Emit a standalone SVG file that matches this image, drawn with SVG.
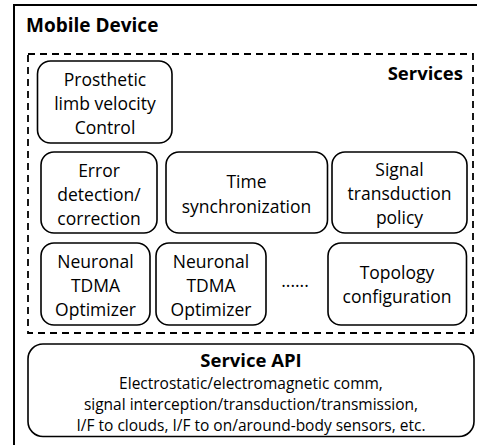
<svg xmlns="http://www.w3.org/2000/svg" width="477" height="445" viewBox="0 0 477 445">
<style>
.box{fill:#fff;stroke:#000;stroke-width:1.6}
.t{font-family:"Open Sans","Liberation Sans",sans-serif;font-size:17.5px;fill:#000;text-anchor:middle}
.b{font-family:"Open Sans","Liberation Sans",sans-serif;font-weight:bold;font-size:18.5px;fill:#000}
.s{font-family:"Open Sans","Liberation Sans",sans-serif;font-size:15.5px;fill:#000;text-anchor:middle}
</style>
<rect width="477" height="445" fill="#fff"/>
<g id="mobile-device">
<path d="M14,446 V5 H478" fill="none" stroke="#000" stroke-width="2"/>
<text class="b" x="26" y="32" style="font-size:19px">Mobile Device</text>
</g>
<g id="services">
<rect x="28" y="54" width="445" height="279" fill="none" stroke="#000" stroke-width="1.8" stroke-dasharray="7,5"/>
<text class="b" x="463" y="80" text-anchor="end">Services</text>
</g>
<g id="prosthetic">
<rect class="box" x="37.5" y="61" width="134.5" height="82" rx="13"/>
<text class="t" x="105" y="86">Prosthetic</text>
<text class="t" x="105" y="110">limb velocity</text>
<text class="t" x="105" y="134">Control</text>
</g>
<g id="error">
<rect class="box" x="41" y="152" width="116" height="81" rx="13"/>
<text class="t" x="99" y="177">Error</text>
<text class="t" x="99" y="201">detection/</text>
<text class="t" x="99" y="225">correction</text>
</g>
<g id="time">
<rect class="box" x="166" y="152" width="161.5" height="81" rx="13"/>
<text class="t" x="246.5" y="188">Time</text>
<text class="t" x="246.5" y="213">synchronization</text>
</g>
<g id="signal">
<rect class="box" x="332" y="152" width="135" height="81" rx="13"/>
<text class="t" x="399.5" y="176">Signal</text>
<text class="t" x="399.5" y="200">transduction</text>
<text class="t" x="399.5" y="224">policy</text>
</g>
<g id="tdma1">
<rect class="box" x="41" y="243" width="109" height="82" rx="13"/>
<text class="t" x="95.5" y="268">Neuronal</text>
<text class="t" x="95.5" y="292">TDMA</text>
<text class="t" x="95.5" y="316">Optimizer</text>
</g>
<g id="tdma2">
<rect class="box" x="156" y="243" width="110" height="82" rx="13"/>
<text class="t" x="211" y="268">Neuronal</text>
<text class="t" x="211" y="292">TDMA</text>
<text class="t" x="211" y="316">Optimizer</text>
</g>
<g id="ellipsis">
<text class="t" x="295" y="287">......</text>
</g>
<g id="topology">
<rect class="box" x="328" y="243" width="138.5" height="82" rx="13"/>
<text class="t" x="397" y="279">Topology</text>
<text class="t" x="397" y="303">configuration</text>
</g>
<g id="service-api">
<rect class="box" x="28" y="344" width="446" height="92.5" rx="15"/>
<text class="b" x="251" y="367" text-anchor="middle">Service API</text>
<text class="s" x="251" y="389">Electrostatic/electromagnetic comm,</text>
<text class="s" x="251" y="410">signal interception/transduction/transmission,</text>
<text class="s" x="251" y="431">I/F to clouds, I/F to on/around-body sensors, etc.</text>
</g>
<g id="connectors"></g>
</svg>
